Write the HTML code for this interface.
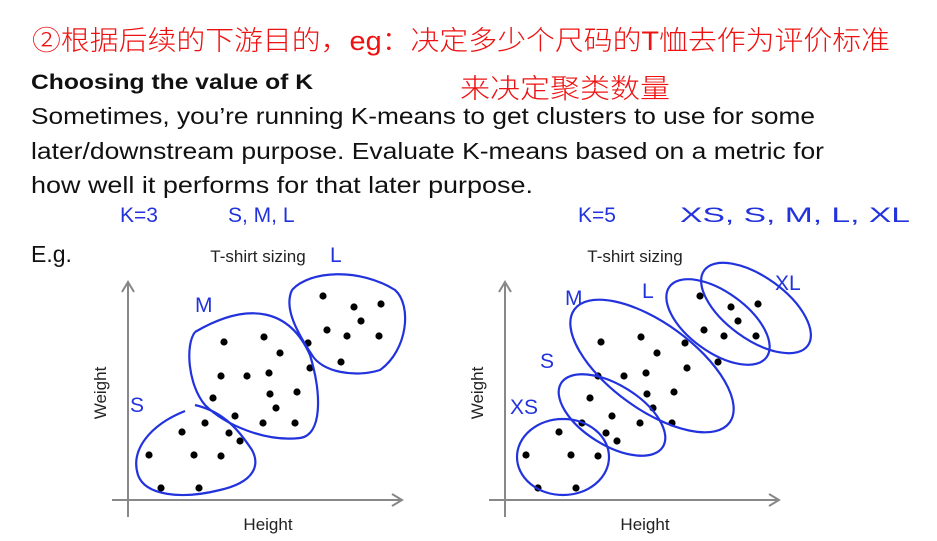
<!DOCTYPE html>
<html><head><meta charset="utf-8"><style>
html,body{margin:0;padding:0;background:#fff;width:937px;height:541px;overflow:hidden}
svg{display:block}
.body{font-family:"Liberation Sans",sans-serif;font-size:23px;fill:#111}
.hand{font-family:"Liberation Sans",sans-serif;fill:#2233dd;font-size:21px}
.red{font-family:"Liberation Sans","Noto Sans CJK SC",sans-serif;fill:#ee1111;font-size:27px;font-weight:300}
.lbl{font-family:"Liberation Sans",sans-serif;font-size:17px;fill:#222}
</style></head><body>
<svg id="s" width="937" height="541" viewBox="0 0 937 541">
<text class="red" x="32" y="50" textLength="858" lengthAdjust="spacingAndGlyphs">②根据后续的下游目的，eg：决定多少个尺码的T恤去作为评价标准</text>
<text class="red" x="460" y="98" textLength="210" lengthAdjust="spacingAndGlyphs">来决定聚类数量</text>
<text x="31" y="89" font-family="Liberation Sans" font-weight="bold" font-size="21" fill="#111" textLength="282" lengthAdjust="spacingAndGlyphs">Choosing the value of K</text>
<text class="body" x="31" y="124" textLength="784" lengthAdjust="spacingAndGlyphs">Sometimes, you’re running K-means to get clusters to use for some</text>
<text class="body" x="31" y="159" textLength="793" lengthAdjust="spacingAndGlyphs">later/downstream purpose. Evaluate K-means based on a metric for</text>
<text class="body" x="31" y="193" textLength="502" lengthAdjust="spacingAndGlyphs">how well it performs for that later purpose.</text>
<text class="hand" x="120" y="222">K=3</text>
<text class="hand" x="228" y="222">S, M, L</text>
<text class="hand" x="578" y="222">K=5</text>
<text class="hand" x="680" y="222" textLength="230" lengthAdjust="spacingAndGlyphs">XS, S, M, L, XL</text>
<text class="body" x="31" y="262">E.g.</text>
<g id="left"></g>
<g id="right"></g>
</svg>
<script>
// point data (height, weight) in chart units relative to axis origin
const heights=[195,226,253,233,199,219,251,213,180,96,136,152,182,93,119,141,142,169,85,148,107,135,167,77,54,101,112,21,66,93,33,71];
const weights=[204,193,196,179,170,164,164,138,157,158,163,147,132,124,124,127,106,108,102,92,84,77,77,77,68,67,59,45,45,44,12,12];
const NS='http://www.w3.org/2000/svg';
function mk(t,a,p){const e=document.createElementNS(NS,t);for(const k in a)e.setAttribute(k,a[k]);p.appendChild(e);return e;}
function chart(g,ox,oy,title,ty){
  const ax=mk('path',{d:`M${ox} ${oy+17}V${oy-218}M${ox-6} ${oy-208}L${ox} ${oy-218}L${ox+6} ${oy-208}M${ox-16} ${oy}H${ox+274}M${ox+264} ${oy-6}L${ox+274} ${oy}L${ox+264} ${oy+6}`,stroke:'#888',fill:'none','stroke-width':2},g);
  
  
  const t=mk('text',{x:ox+130,y:ty,'text-anchor':'middle',class:'lbl'},g);t.textContent=title;
  
  
  const xl=mk('text',{x:ox+140,y:oy+30,'text-anchor':'middle',class:'lbl'},g);xl.textContent='Height';
  
  
  const yl=mk('text',{x:0,y:0,'text-anchor':'middle',class:'lbl',transform:`translate(${ox-22},${oy-107}) rotate(-90)`},g);yl.textContent='Weight';
  
  
  for(let i=0;i<heights.length;i++){
    const c=mk('circle',{cx:ox+heights[i],cy:oy-weights[i],r:3.6,fill:'#000'},g);
    
    
  }
}
const L=document.getElementById('left'),R=document.getElementById('right');
chart(L,128,500,'T-shirt sizing',262);
chart(R,505,500,'T-shirt sizing',262);
function blob(g,d,name){const p=mk('path',{d,stroke:'#2233dd',fill:'none','stroke-width':2.2},g);
  
  }
blob(L,'M185 411C150 425 130 450 138 475C145 495 180 500 220 490C255 482 260 465 252 450C240 432 225 412 195 405','cluster-s');
blob(L,'M195 332C250 300 290 310 310 355C322 395 322 435 300 438C265 442 225 425 205 405C188 385 185 345 195 332','cluster-m');
blob(L,'M292 290C310 270 360 268 395 290C412 305 408 350 380 370C355 378 322 372 312 355C292 325 285 305 292 290','cluster-l');
const ell=[['cluster-xs',563,457,46,38,0],['cluster-s',612,415,60,30,32],['cluster-m',652,366,96,43,36],['cluster-l',718,322,60,30,36],['cluster-xl',756,308,64,31,36]];
for(const e of ell){const p=mk('ellipse',{cx:e[1],cy:e[2],rx:e[3],ry:e[4],transform:`rotate(${e[5]} ${e[1]} ${e[2]})`,stroke:'#2233dd',fill:'none','stroke-width':2.2},R);
  
  }
const tags=[[L,130,412,'S'],[L,195,312,'M'],[L,330,262,'L'],[R,510,414,'XS'],[R,540,368,'S'],[R,565,305,'M'],[R,642,298,'L'],[R,775,290,'XL']];
for(const t of tags){const e=mk('text',{x:t[1],y:t[2],class:'hand'},t[0]);e.textContent=t[3];
  
  }
</script>
</body></html>
